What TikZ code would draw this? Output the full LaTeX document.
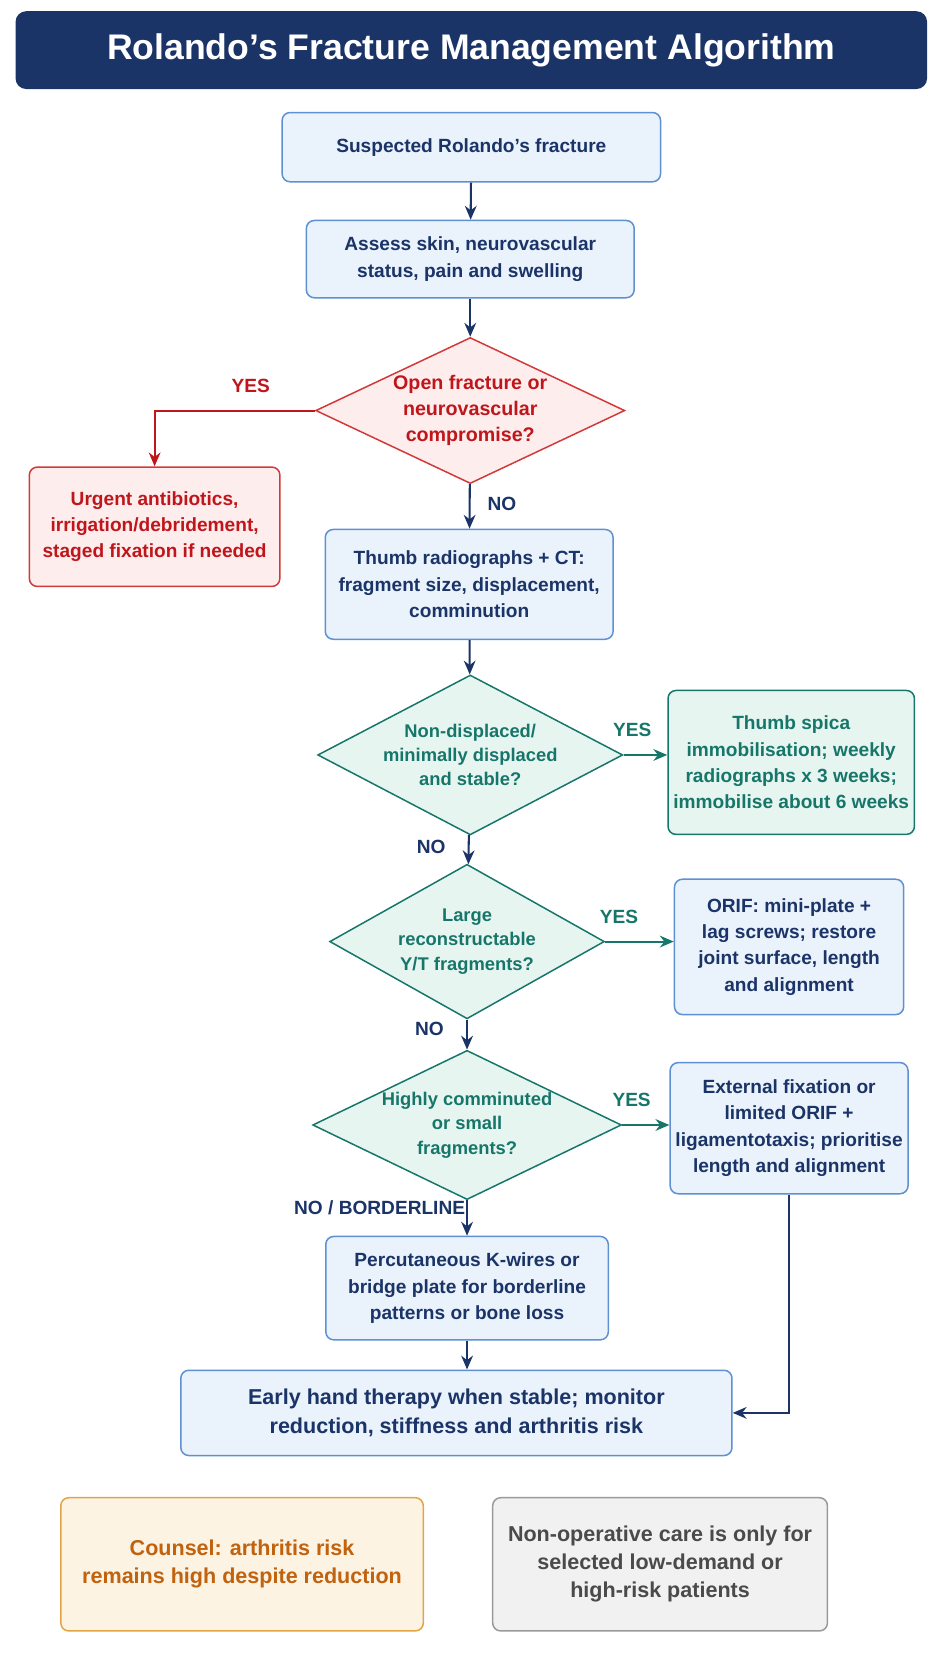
\documentclass[tikz,border=0pt]{standalone}
\usepackage{fontspec}
\setmainfont{Liberation Sans}
\usetikzlibrary{
  shapes.geometric, % diamond
  arrows.meta,
}
\definecolor{navy}{HTML}{1B3468}
\definecolor{bluefill}{HTML}{EAF2FC}
\definecolor{blueline}{HTML}{5E90D2}
\definecolor{redtext}{HTML}{C0161B}
\definecolor{redfill}{HTML}{FDEDED}
\definecolor{redline}{HTML}{D23A3A}
\definecolor{tealtext}{HTML}{17766A}
\definecolor{tealfill}{HTML}{E7F5F1}
\definecolor{orangetext}{HTML}{C0620E}
\definecolor{orangefill}{HTML}{FDF3E3}
\definecolor{orangeline}{HTML}{E3A446}
\definecolor{graytext}{HTML}{4A4A4A}
\definecolor{grayfill}{HTML}{F1F1F1}
\definecolor{grayline}{HTML}{9A9A9A}
\tikzset{
  font=\bfseries\fontsize{10.2}{14}\selectfont,
  >={Stealth[length=2.6mm,width=2.2mm]},
  my box/.style={
    draw=blueline, fill=bluefill, text=navy,
    rounded corners=1.5mm, line width=0.8pt,
    align=center, inner sep=1mm
  },
  red box/.style={my box, draw=redline, fill=redfill, text=redtext},
  teal box/.style={my box, draw=tealtext, fill=tealfill, text=tealtext},
  orange box/.style={my box, draw=orangeline, fill=orangefill, text=orangetext,
    font=\bfseries\fontsize{11.5}{15}\selectfont},
  gray box/.style={my box, draw=grayline, fill=grayfill, text=graytext,
    font=\bfseries\fontsize{11.5}{15}\selectfont},
  my decision/.style={
    diamond, draw=tealtext, fill=tealfill, text=tealtext,
    line width=0.8pt, align=center, inner sep=0pt, aspect=2.1,
    font=\bfseries\fontsize{9.8}{13}\selectfont
  },
  red decision/.style={my decision, draw=redline, fill=redfill, text=redtext,
    font=\bfseries\fontsize{10.5}{14}\selectfont},
  flow/.style={->, draw=navy, line width=1.1pt},
  teal flow/.style={flow, draw=tealtext},
  red flow/.style={flow, draw=redtext},
  yes/.style={text=tealtext},
  no/.style={text=navy},
}
\begin{document}
\begin{tikzpicture}[x=0.02cm,y=-0.02cm]
\useasboundingbox (0,0) rectangle (882,1568);
% title
\node[fill=navy, rounded corners=2mm, minimum width=17.1cm, minimum height=1.46cm,
  text=white, font=\bfseries\fontsize{19}{22}\selectfont] (title) at (442,47)
  {Rolando's Fracture Management Algorithm};
% main column
\node[my box, minimum width=7.1cm, minimum height=1.3cm] (susp) at (442,138)
  {Suspected Rolando's fracture};
\node[my box, minimum width=6.15cm, minimum height=1.45cm] (assess) at (441,243)
  {Assess skin, neurovascular\\status, pain and swelling};
\node[red decision, minimum width=5.8cm, minimum height=2.74cm] (open) at (441,385)
  {Open fracture or\\neurovascular\\compromise?};
\node[red box, minimum width=4.7cm, minimum height=2.24cm] (urgent) at (145,494)
  {Urgent antibiotics,\\irrigation/debridement,\\staged fixation if needed};
\node[my box, minimum width=5.4cm, minimum height=2.06cm] (ct) at (440,548)
  {Thumb radiographs + CT:\\fragment size, displacement,\\comminution};
\node[my decision, minimum width=5.54cm, minimum height=3cm] (stable) at (441,708)
  {Non-displaced/\\minimally displaced\\and stable?};
\node[teal box, minimum width=4.62cm, minimum height=2.7cm] (spica) at (742,715)
  {Thumb spica\\immobilisation; weekly\\radiographs x 3 weeks;\\immobilise about 6 weeks};
\node[my decision, minimum width=5.12cm, minimum height=2.9cm] (large) at (438,883)
  {Large\\reconstructable\\Y/T fragments?};
\node[my box, minimum width=4.3cm, minimum height=2.54cm] (orif) at (740,888)
  {ORIF: mini-plate +\\lag screws; restore\\joint surface, length\\and alignment};
\node[my decision, minimum width=5.12cm, minimum height=2.8cm] (commin) at (438,1055)
  {Highly comminuted\\or small\\fragments?};
\node[my box, minimum width=4.32cm, minimum height=2.46cm] (exfix) at (740,1058)
  {External fixation or\\limited ORIF +\\ligamentotaxis; prioritise\\length and alignment};
\node[my box, minimum width=5.3cm, minimum height=1.94cm] (kwire) at (438,1208)
  {Percutaneous K-wires or\\bridge plate for borderline\\patterns or bone loss};
\node[my box, minimum width=10.34cm, minimum height=1.6cm,
  font=\bfseries\fontsize{11.5}{15}\selectfont] (therapy) at (428,1325)
  {Early hand therapy when stable; monitor\\reduction, stiffness and arthritis risk};
% notes
\node[orange box, minimum width=6.8cm, minimum height=2.5cm] (counsel) at (227,1467)
  {Counsel: arthritis risk\\remains high despite reduction};
\node[gray box, minimum width=6.28cm, minimum height=2.5cm] (nonop) at (619,1467)
  {Non-operative care is only for\\selected low-demand or\\high-risk patients};
% connectors
\draw[flow] (susp) -- (assess);
\draw[flow] (assess) -- (open);
\draw[red flow] (open.west) -| (urgent.north)
  node[pos=0.2, above=2mm, text=redtext] {YES};
\draw[flow] (open) -- (ct) node[pos=0.45, right=2mm, no] {NO};
\draw[flow] (ct) -- (stable);
\draw[teal flow] (stable.east) -- (spica.west |- stable.east)
  node[pos=0.2, above=2mm, yes] {YES};
\draw[flow] (stable) -- (large) node[pos=0.4, left=3mm, no] {NO};
\draw[teal flow] (large.east) -- (orif.west |- large.east)
  node[pos=0.2, above=2mm, yes] {YES};
\draw[flow] (large) -- (commin) node[pos=0.3, left=3mm, no] {NO};
\draw[teal flow] (commin.east) -- (exfix.west |- commin.east)
  node[pos=0.2, above=2mm, yes] {YES};
\draw[flow] (commin) -- (kwire) node[pos=0.2, left=-1mm, no] {NO / BORDERLINE};
\draw[flow] (kwire) -- (kwire |- therapy.north);
\draw[flow] (exfix.south) |- (therapy.east);
\end{tikzpicture}
\end{document}
